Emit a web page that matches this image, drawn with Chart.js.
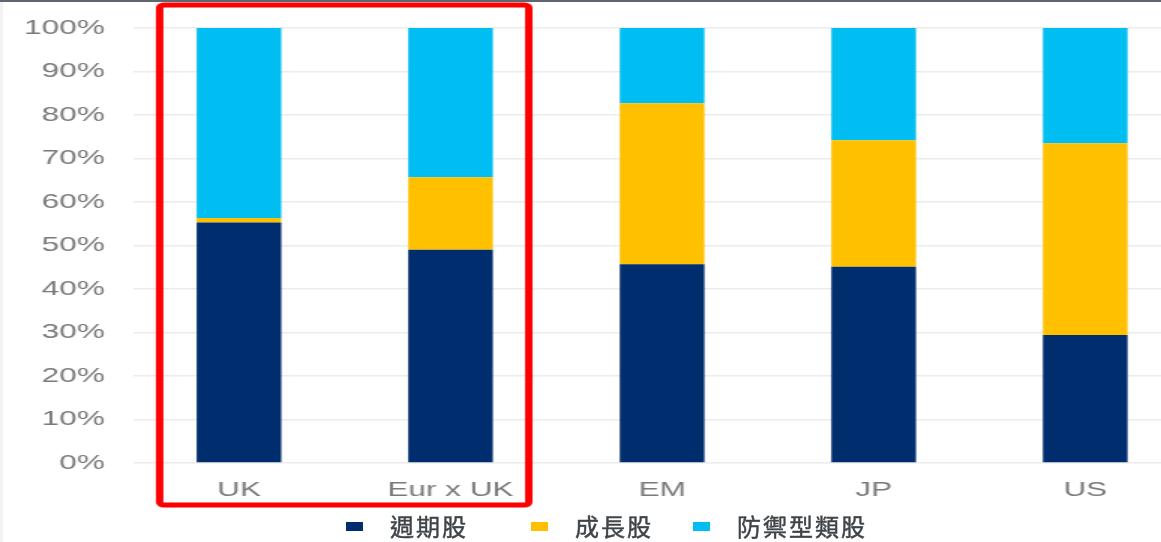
<!DOCTYPE html>
<html>
<head>
<meta charset="utf-8">
<script src="https://cdn.jsdelivr.net/npm/chart.js@4.4.1/dist/chart.umd.min.js"></script>
<style>
  html, body { margin: 0; padding: 0; background: #fff; overflow: hidden; }
  body { width: 1161px; height: 542px; position: relative; }
  #topRule { position: absolute; left: 0; top: 0; width: 1161px; height: 2px; background: #5f6670; z-index: 3; }
  #leftRule { position: absolute; left: 0; top: 0; width: 3px; height: 542px; background: #f3f3f3; z-index: 2; }
  #wrap { position: absolute; left: 0; top: 0; width: 810px; height: 542px; transform: scaleX(1.5); transform-origin: 0 0; }
  #legend { position: absolute; left: 346px; top: 509px; height: 34px; display: flex; align-items: center;
            font-family: "Noto Sans CJK TC", "Noto Sans CJK SC", sans-serif; font-size: 24px; line-height: 34px;
            color: #3f4449; letter-spacing: 2px; -webkit-text-stroke: 0.45px #3f4449; }
  .item { display: flex; align-items: center; }
  .item:nth-child(1) { margin-right: 63px; }
  .item:nth-child(2) { margin-right: 40px; }
  .sw { width: 17px; height: 9px; margin-right: 27px; margin-top: 1px; }
</style>
</head>
<body>
<div id="topRule"></div>
<div id="leftRule"></div>
<div id="wrap"><canvas id="c" width="810" height="542"></canvas></div>
<div id="legend"></div>
<script>
// Regions compared
const categories = ['UK', 'Eur x UK', 'EM', 'JP', 'US'];

// Share of each style (percent of the market)
const cyclical  = [55.3, 49.0, 45.7, 45.1, 29.4];
const growth    = [1.0, 16.7, 37.0, 29.1, 44.1];
const defensive = [43.7, 34.3, 17.3, 25.8, 26.5];

const seriesNames = ['週期股', '成長股', '防禦型類股'];
const seriesColors = ['#002d6e', '#ffc000', '#00bef2'];

const yTicks = [0, 10, 20, 30, 40, 50, 60, 70, 80, 90, 100];

// Red frame around the first two categories
const highlightBox = {
  id: 'highlightBox',
  afterDraw(chart) {
    const x = chart.scales.x;
    const area = chart.chartArea;
    const step = x.getPixelForValue(1) - x.getPixelForValue(0);
    const left = x.getPixelForValue(0) - 0.375 * step;
    const right = x.getPixelForValue(1) + 0.37 * step;
    const top = area.top - 23;
    const bottom = area.bottom + 42;
    const ctx = chart.ctx;
    ctx.save();
    ctx.strokeStyle = '#ff0000';
    ctx.lineWidth = 5;
    ctx.beginPath();
    ctx.roundRect(left, top, right - left, bottom - top, 3);
    ctx.stroke();
    ctx.restore();
  }
};

const chart = new Chart(document.getElementById('c'), {
  type: 'bar',
  data: {
    labels: categories,
    datasets: [cyclical, growth, defensive].map((d, i) => ({
      label: seriesNames[i],
      data: d,
      backgroundColor: seriesColors[i],
      borderWidth: 0,
      categoryPercentage: 1,
      barPercentage: 0.4
    }))
  },
  options: {
    responsive: false,
    animation: false,
    devicePixelRatio: 1,
    layout: { padding: { left: 15, right: 16, top: 28, bottom: 39 } },
    plugins: { legend: { display: false }, tooltip: { enabled: false } },
    scales: {
      x: {
        stacked: true,
        grid: { display: false },
        border: { display: false },
        afterFit(scale) { scale.height = 40; scale.paddingLeft = 0; scale.paddingRight = 0; },
        ticks: { color: '#7a7a7a', padding: 7, font: { family: 'Liberation Sans', size: 21 } }
      },
      y: {
        stacked: true,
        min: 0,
        max: 100,
        afterBuildTicks(scale) { scale.ticks = yTicks.map(v => ({ value: v })); },
        afterFit(scale) { scale.width = 73.8; scale.paddingTop = 0; scale.paddingBottom = 0; },
        grid: { color: '#ececec', lineWidth: 1.5, drawTicks: false },
        border: { display: false },
        ticks: { color: '#7a7a7a', padding: 19, font: { family: 'Liberation Sans', size: 21 },
                 callback: v => v + '%' }
      }
    }
  },
  plugins: [highlightBox]
});

// Legend built from the chart's datasets
const legend = document.getElementById('legend');
chart.data.datasets.forEach(ds => {
  const item = document.createElement('div');
  item.className = 'item';
  const sw = document.createElement('span');
  sw.className = 'sw';
  sw.style.background = ds.backgroundColor;
  const tx = document.createElement('span');
  tx.textContent = ds.label;
  item.appendChild(sw);
  item.appendChild(tx);
  legend.appendChild(item);
});
</script>
</body>
</html>
